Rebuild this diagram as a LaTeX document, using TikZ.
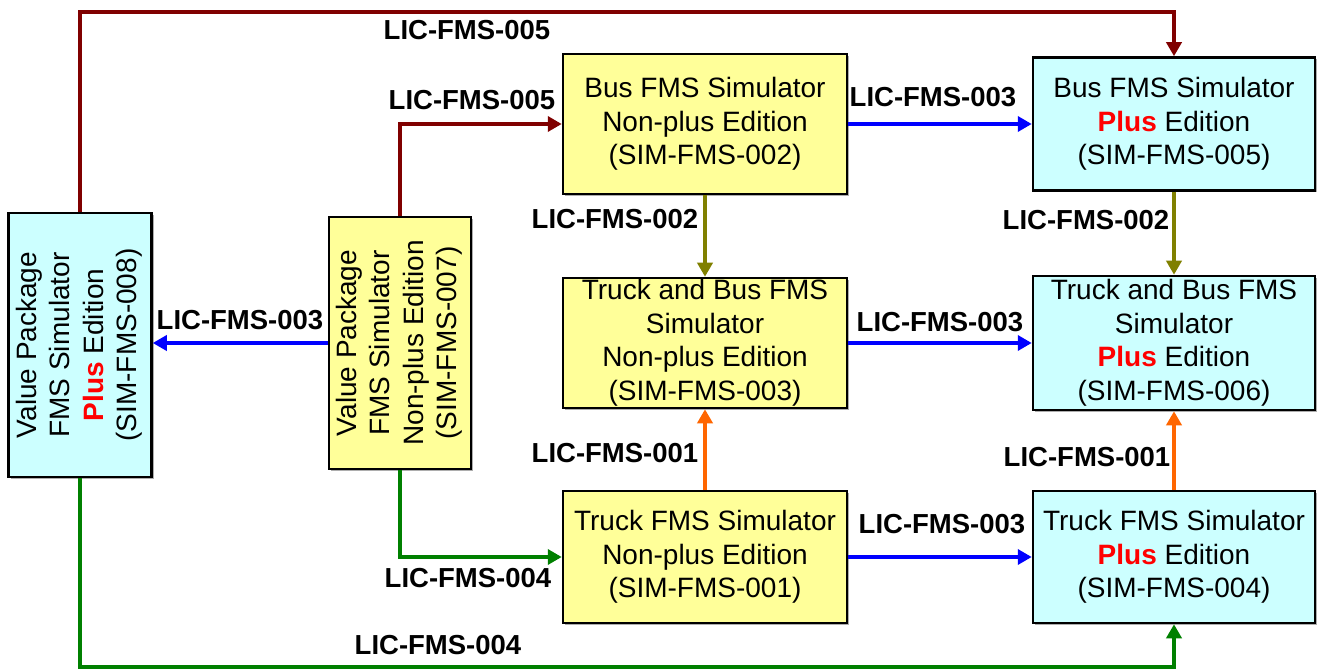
\documentclass[tikz,border=0pt]{standalone}
\usepackage{fontspec}
\setmainfont{Liberation Sans}
\usepackage{tikz}
\usetikzlibrary{arrows.meta}
\usetikzlibrary{shadows}
\usetikzlibrary{calc}
\definecolor{npyellow}{HTML}{FFFF99}
\definecolor{pcyan}{HTML}{CCFFFF}
\definecolor{licred}{HTML}{800000}
\definecolor{licolive}{HTML}{808000}
\definecolor{licorange}{HTML}{FF6600}
\definecolor{licgreen}{HTML}{008000}
\definecolor{licblue}{HTML}{0000FF}
\tikzstyle{npbox}=[rectangle,draw,line width=2.5pt,fill=npyellow,align=center,inner sep=0pt,
  font=\fontsize{28}{33.5}\selectfont,
  drop shadow={shadow xshift=2pt,shadow yshift=-2pt,fill=gray!80,opacity=0.8}]
\tikzstyle{pbox}=[npbox,fill=pcyan]
\tikzstyle{lic}=[font=\fontsize{27.5}{30}\selectfont\bfseries,inner sep=0pt]
\tikzstyle{link}=[line width=4.5pt,-{Triangle[length=14pt,width=15pt]}]
\newcommand*{\plusword}{{\bfseries\color{red}Plus}}

\begin{document}
\begin{tikzpicture}[x=1pt,y=-1pt]
  \useasboundingbox (0,0) rectangle (1318,671);

  %value packages
  \node[pbox,minimum width=143pt,minimum height=264pt] (vpplus) at (80,345)
    {\rotatebox{90}{\begin{tabular}{@{}c@{}}Value Package\\FMS Simulator\\\plusword{} Edition\\(SIM-FMS-008)\end{tabular}}};
  \node[npbox,minimum width=142pt,minimum height=252pt] (vpnp) at (400,343)
    {\rotatebox{90}{\begin{tabular}{@{}c@{}}Value Package\\FMS Simulator\\Non-plus Edition\\(SIM-FMS-007)\end{tabular}}};

  %non-plus column
  \node[npbox,minimum width=284pt,minimum height=140pt] (busnp) at (705,124)
    {Bus FMS Simulator\\Non-plus Edition\\(SIM-FMS-002)};
  \node[npbox,minimum width=284pt,minimum height=130pt] (tbnp) at (705,343)
    {Truck and Bus FMS\\Simulator\\Non-plus Edition\\(SIM-FMS-003)};
  \node[npbox,minimum width=284pt,minimum height=132pt] (trucknp) at (705,557)
    {Truck FMS Simulator\\Non-plus Edition\\(SIM-FMS-001)};

  %plus column
  \node[pbox,minimum width=282pt,minimum height=133pt] (busplus) at (1174,124)
    {Bus FMS Simulator\\\plusword{} Edition\\(SIM-FMS-005)};
  \node[pbox,minimum width=282pt,minimum height=134pt] (tbplus) at (1174,343)
    {Truck and Bus FMS\\Simulator\\\plusword{} Edition\\(SIM-FMS-006)};
  \node[pbox,minimum width=282pt,minimum height=132pt] (truckplus) at (1174,557)
    {Truck FMS Simulator\\\plusword{} Edition\\(SIM-FMS-004)};

  \coordinate (top) at (0,12);
  \coordinate (bot) at (0,667);

  %licences
  \draw[link,licred] (vpplus.north) -- (vpplus.north |- top) -| (busplus.north);
  \draw[link,licred] (vpnp.north) |- (busnp.west);
  \draw[link,licgreen] (vpnp.south) |- (trucknp.west);
  \draw[link,licgreen] (vpplus.south) -- (vpplus.south |- bot) -| (truckplus.south);
  \draw[link,licblue] (vpnp.west) -- (vpplus.east |- vpnp.west);
  \foreach \from/\to in {busnp/busplus,tbnp/tbplus,trucknp/truckplus} {
    \draw[link,licblue] (\from.east) -- (\to.west);
  }
  \draw[link,licolive] (busnp.south) -- (tbnp.north);
  \draw[link,licolive] (busplus.south) -- (tbplus.north);
  \draw[link,licorange] (trucknp.north) -- (tbnp.south);
  \draw[link,licorange] (truckplus.north) -- (tbplus.south);

  \node[lic] (l5a) at (467,30) {LIC-FMS-005};
  \node[lic] (l5b) at (472,100) {LIC-FMS-005};
  \node[lic] (l3a) at (240,320) {LIC-FMS-003};
  \node[lic] (l3b) at (933,97) {LIC-FMS-003};
  \node[lic] (l3c) at (940,322) {LIC-FMS-003};
  \node[lic] (l3d) at (942,524) {LIC-FMS-003};
  \node[lic] (l2a) at (615,219) {LIC-FMS-002};
  \node[lic] (l2b) at (1086,220) {LIC-FMS-002};
  \node[lic] (l1a) at (615,453) {LIC-FMS-001};
  \node[lic] (l1b) at (1087,457) {LIC-FMS-001};
  \node[lic] (l4a) at (468,578) {LIC-FMS-004};
  \node[lic] (l4b) at (438,645) {LIC-FMS-004};
\end{tikzpicture}
\end{document}
